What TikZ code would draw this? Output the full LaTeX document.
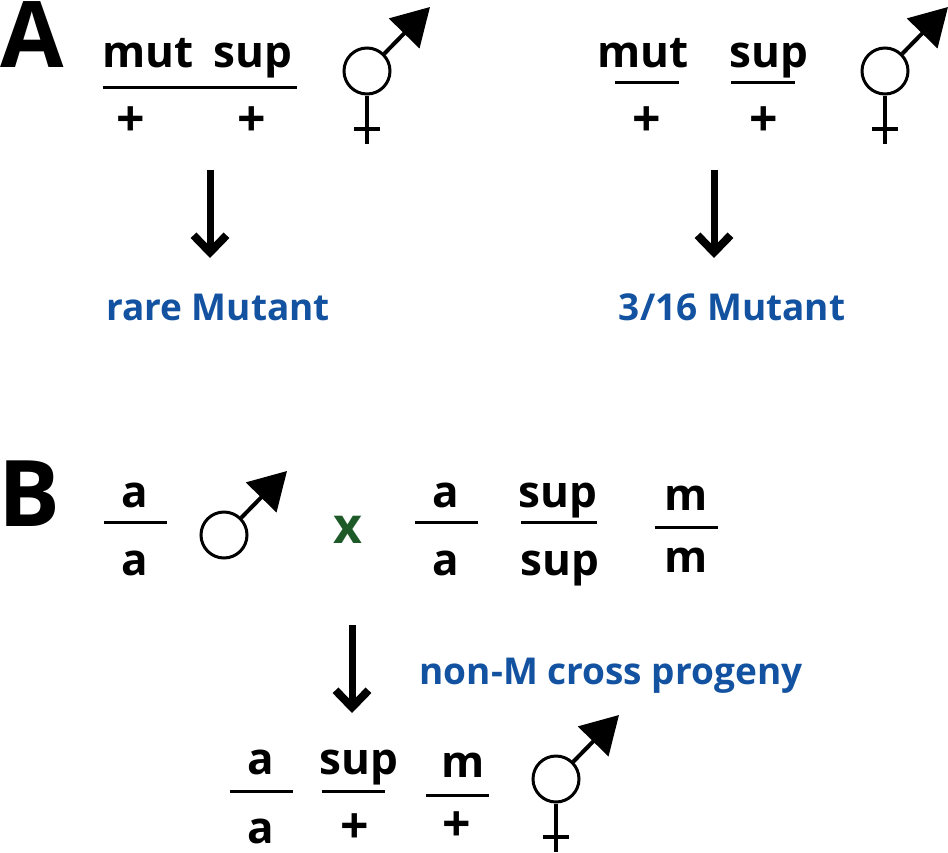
\documentclass[tikz,border=0pt]{standalone}
\usepackage{fontspec}
\setmainfont{Open Sans}
\usetikzlibrary{arrows.meta,positioning,calc}
\definecolor{labelblue}{RGB}{18,82,160}
\definecolor{crossgreen}{RGB}{30,90,40}
\tikzset{
	gene/.style={font=\fontsize{44}{44}\bfseries\selectfont,inner sep=0pt,text=black,anchor=base},
	plus/.style={font=\fontsize{50}{50}\bfseries\selectfont,inner sep=0pt,text=black},
	panel/.style={font=\fontsize{92}{92}\bfseries\selectfont,inner sep=0pt,text=black,anchor=base},
	result/.style={font=\fontsize{37}{37}\bfseries\selectfont,inner sep=0pt,text=labelblue,anchor=base},
	genebar/.style={line width=3pt,black},
	bigarrow/.style={line width=7pt,black,-{Straight Barb[length=17pt,width=33pt,line width=8pt]}},
	ring/.style={circle,draw=black,line width=3pt,fill=white,minimum size=46pt,inner sep=0pt},
	symline/.style={line width=3.5pt,black},
	symarrow/.style={line width=4pt,black,-{Triangle[length=37pt,width=42pt]}}
}
\newcommand{\malesym}[2]{%
	\node[ring] (#1) at (#2) {};
	\coordinate (#1tip) at ($(#2)+(63,-64)$);
	\draw[symarrow] (#1.45) -- (#1tip);
}
\newcommand{\hermsym}[2]{%
	\malesym{#1}{#2}
	\coordinate (#1low) at ($(#2)+(0,73)$);
	\coordinate (#1barl) at ($(#2)+(-13,58)$);
	\coordinate (#1barr) at ($(#2)+(13,58)$);
	\draw[symline] (#1.south) -- (#1low);
	\draw[symline] (#1barl) -- (#1barr);
}
\begin{document}
\begin{tikzpicture}[x=1pt,y=-1pt]
	\useasboundingbox (0,0) rectangle (948,852);
	% panel A, left
	\node[panel] (panelA) at (32,67) {A};
	\node[gene] (mutA) at (148,67) {mut};
	\node[gene] (supA) at (253,67) {sup};
	\node[plus] (plusA) at (131,122) {+};
	\node[plus] (plusB) at (252,122) {+};
	\coordinate (barAl) at (103,87);
	\coordinate (barAr) at (297,87);
	\draw[genebar] (barAl) -- (barAr);
	\hermsym{symA}{367,71}
	\coordinate (arrowAs) at (210,170);
	\coordinate (arrowAe) at (210,258);
	\draw[bigarrow] (arrowAs) -- (arrowAe);
	\node[result] (rare) at (218,320) {rare Mutant};
	% panel A, right
	\node[gene] (mutB) at (643,67) {mut};
	\node[gene] (supB) at (769,67) {sup};
	\node[plus] (plusC) at (647,122) {+};
	\node[plus] (plusD) at (764,122) {+};
	\coordinate (barBl) at (615,82);
	\coordinate (barBr) at (679,82);
	\coordinate (barCl) at (731,82);
	\coordinate (barCr) at (795,82);
	\draw[genebar] (barBl) -- (barBr);
	\draw[genebar] (barCl) -- (barCr);
	\hermsym{symB}{885,71}
	\coordinate (arrowBs) at (714,170);
	\coordinate (arrowBe) at (714,258);
	\draw[bigarrow] (arrowBs) -- (arrowBe);
	\node[result] (ratio) at (732,320) {3/16 Mutant};
	% panel B, cross
	\node[panel] (panelB) at (29,526) {B};
	\node[gene] (aTop) at (135,507) {a};
	\node[gene] (aBot) at (135,575) {a};
	\coordinate (barDl) at (104,522);
	\coordinate (barDr) at (167,522);
	\draw[genebar] (barDl) -- (barDr);
	\malesym{symC}{224,535}
	\node[gene,font=\fontsize{50}{50}\bfseries\selectfont,text=crossgreen] (cross) at (348,543) {x};
	\node[gene] (aTopB) at (446,507) {a};
	\node[gene] (aBotB) at (446,575) {a};
	\coordinate (barEl) at (415,522);
	\coordinate (barEr) at (478,522);
	\draw[genebar] (barEl) -- (barEr);
	\node[gene] (supTop) at (558,507) {sup};
	\node[gene] (supBot) at (560,575) {sup};
	\coordinate (barFl) at (521,522);
	\coordinate (barFr) at (597,522);
	\draw[genebar] (barFl) -- (barFr);
	\node[gene] (mTop) at (686,510) {m};
	\node[gene] (mBot) at (686,572) {m};
	\coordinate (barGl) at (655,527);
	\coordinate (barGr) at (718,527);
	\draw[genebar] (barGl) -- (barGr);
	\coordinate (arrowCs) at (352,625);
	\coordinate (arrowCe) at (352,713);
	\draw[bigarrow] (arrowCs) -- (arrowCe);
	\node[result] (nonM) at (611,684) {non-M cross progeny};
	% panel B, progeny
	\node[gene] (aTopC) at (261,774) {a};
	\node[gene] (aBotC) at (261,843) {a};
	\coordinate (barHl) at (230,791);
	\coordinate (barHr) at (293,791);
	\draw[genebar] (barHl) -- (barHr);
	\node[gene] (supC) at (359,774) {sup};
	\node[plus] (plusE) at (355,829) {+};
	\coordinate (barIl) at (322,791);
	\coordinate (barIr) at (385,791);
	\draw[genebar] (barIl) -- (barIr);
	\node[gene] (mC) at (463,777) {m};
	\node[plus] (plusF) at (457,827) {+};
	\coordinate (barJl) at (426,795);
	\coordinate (barJr) at (489,795);
	\draw[genebar] (barJl) -- (barJr);
	\hermsym{symD}{556,779}
\end{tikzpicture}
\end{document}
